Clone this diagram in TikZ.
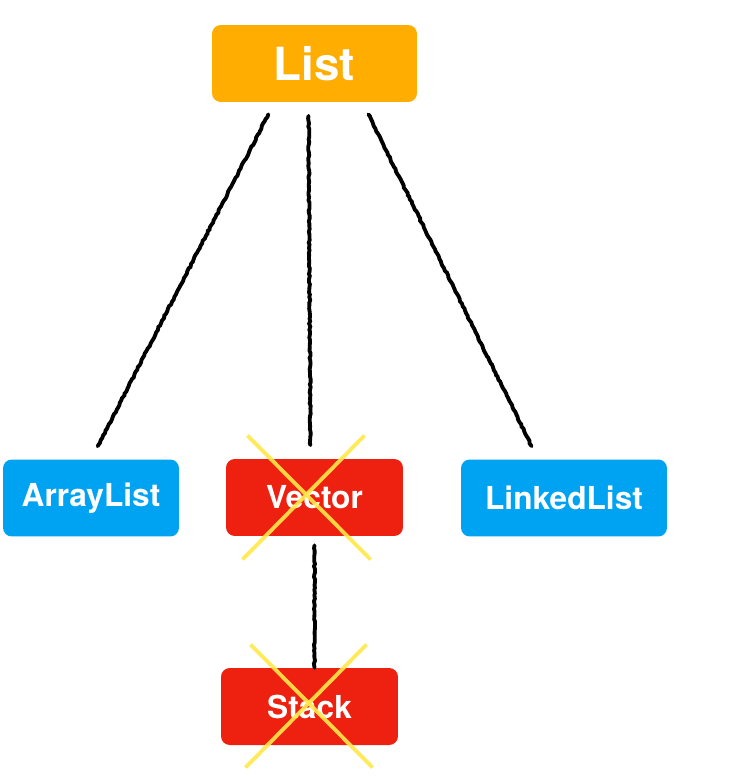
\documentclass[tikz,border=0pt]{standalone}
\usepackage{fontspec}
\setmainfont{TeX Gyre Heros}
\usetikzlibrary{calc,positioning,decorations.pathmorphing}
\definecolor{listorange}{HTML}{FFAD00}
\definecolor{implblue}{HTML}{00A3F2}
\definecolor{oldred}{HTML}{EE2010}
\definecolor{crossyellow}{HTML}{FFE84A}

\begin{document}
\begin{tikzpicture}[x=0.02cm,y=-0.02cm,
    box/.style={rounded corners=5pt,text=white,inner sep=0pt,minimum height=1.54cm,font=\bfseries\fontsize{18}{20}\selectfont},
    link/.style={draw=black,line width=2.2pt,line cap=round,decorate,decoration={random steps,segment length=1.5pt,amplitude=0.35pt}},
    cross/.style={draw=crossyellow,line width=2.2pt,opacity=0.9}]
    \useasboundingbox (0,0) rectangle (729,781);
    \node[box,fill=listorange,minimum width=4.1cm,font=\bfseries\fontsize{26}{28}\selectfont] (list) at (314.5,63.5) {List};

    \node[box,fill=implblue,minimum width=3.52cm] (arr) at (91,498) {ArrayList};
    \node[box,fill=oldred,minimum width=3.54cm] (vec) at (314.5,497.5) {Vector};
    \node[box,fill=implblue,minimum width=4.12cm] (lnk) at (564,498) {LinkedList};

    \node[box,fill=oldred,minimum width=3.54cm] (stk) at (309.5,706.5) {Stack};

    \coordinate (l1) at ([xshift=-40*0.02cm]list.south);
    \coordinate (l2) at ([xshift=-6*0.02cm]list.south);
    \coordinate (l3) at ([xshift=48*0.02cm]list.south);
    \coordinate (e2) at ([xshift=-4*0.02cm]vec.north);
    \coordinate (e3) at ([xshift=-26*0.02cm]lnk.north);
    \coordinate (s1) at (vec.south |- stk.north);

    \draw[link] ($(l1)!0.27cm!(arr.north)$) -- ($(arr.north)!0.29cm!(l1)$);
    \draw[link] ($(l2)!0.27cm!(e2)$) -- ($(e2)!0.27cm!(l2)$);
    \draw[link] ($(l3)!0.27cm!(e3)$) -- ($(e3)!0.29cm!(l3)$);
    \draw[link] ($(vec.south)!0.18cm!(s1)$) -- (s1);

    % crossed out
    \draw[cross] ([shift={(-67,-62)}]vec.center) -- ([shift={(56,62)}]vec.center);
    \draw[cross] ([shift={(50,-62)}]vec.center) -- ([shift={(-72,62)}]vec.center);
    \draw[cross] ([shift={(-59,-62)}]stk.center) -- ([shift={(63,61)}]stk.center);
    \draw[cross] ([shift={(57,-62)}]stk.center) -- ([shift={(-64,61)}]stk.center);
\end{tikzpicture}
\end{document}
